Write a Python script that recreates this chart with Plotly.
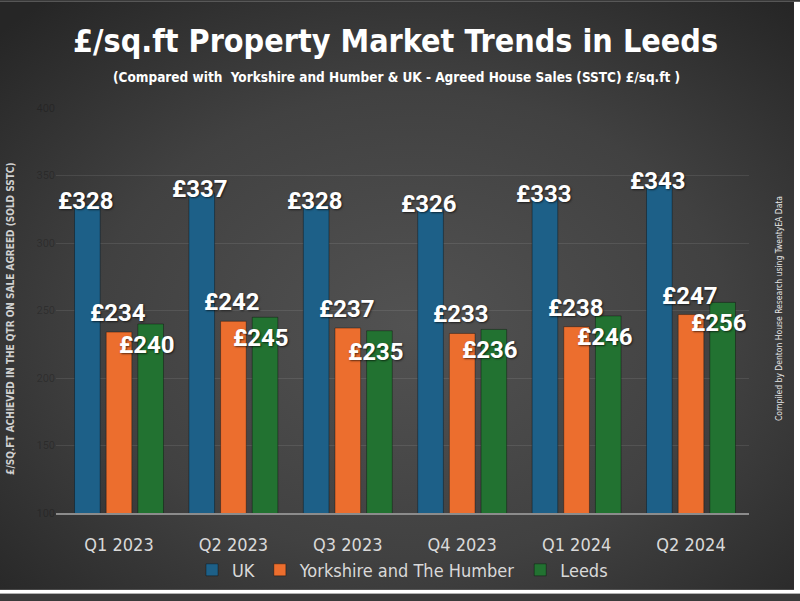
import base64
import plotly.graph_objects as go

quarters = ["Q1 2023", "Q2 2023", "Q3 2023", "Q4 2023", "Q1 2024", "Q2 2024"]
uk = [328, 337, 328, 326, 333, 343]
yorkshire = [234, 242, 237, 233, 238, 247]
leeds = [240, 245, 235, 236, 246, 256]
series_names = ["UK", "Yorkshire and The Humber", "Leeds"]
y_ticks = [100, 150, 200, 250, 300, 350, 400]

W, H = 800, 601
ML, MR, MT, MB = 56, 51, 108, 82
PW, PH = W - ML - MR, H - MT - MB

svg = f'''<svg xmlns="http://www.w3.org/2000/svg" width="{W}" height="{H}" viewBox="0 0 {W} {H}">
<defs><radialGradient id="g" cx="52%" cy="55%" r="72%">
<stop offset="0" stop-color="#525252"/><stop offset="0.55" stop-color="#414141"/><stop offset="1" stop-color="#262626"/>
</radialGradient></defs>
<rect width="{W}" height="{H}" fill="#ffffff"/>
<rect width="794" height="597" fill="url(#g)"/>
</svg>'''
bg_uri = "data:image/svg+xml;base64," + base64.b64encode(svg.encode()).decode()

colors = ["#1d6088", "#ec6e2e", "#227231"]
values = [uk, yorkshire, leeds]

fig = go.Figure()
for name, vals, col in zip(series_names, values, colors):
    fig.add_trace(go.Bar(
        x=quarters, y=vals, name=name,
        marker=dict(color=col, line=dict(color="rgba(0,0,0,0.35)", width=1)),
        hoverinfo="x+y+name",
    ))

label_font = dict(family="Roboto, Arial, sans-serif", size=24, color="#ffffff",
                  weight="bold", shadow="1px 1px 2px rgba(0,0,0,0.6)")
offsets = [(-33, 4), (-1, 19), (28, -21)]
annotations = []
for vals, (dx, dy) in zip(values, offsets):
    for q, v in zip(quarters, vals):
        annotations.append(dict(
            x=q, y=v, xref="x", yref="y", text=f"£{v}", showarrow=False,
            xshift=dx, yshift=dy, yanchor="middle", xanchor="center",
            font=label_font,
        ))

cond = "DejaVu Sans Condensed, Liberation Sans Narrow, sans-serif"
annotations.append(dict(
    text="£/SQ.FT ACHIEVED IN THE QTR ON SALE AGREED (SOLD SSTC)",
    xref="paper", yref="paper", x=-45 / PW, y=(519 - 322) / PH, textangle=-90,
    showarrow=False, xanchor="center", yanchor="middle",
    font=dict(family=cond, size=10, color="#d0d0d0", weight="bold"),
))
annotations.append(dict(
    text="Compiled by Denton House Research using TwentyEA Data",
    xref="paper", yref="paper", x=(779 - ML) / PW, y=(519 - 312) / PH, textangle=-90,
    showarrow=False, xanchor="center", yanchor="middle",
    font=dict(family=cond, size=8.5, color="#e8e8e8"),
))
annotations.append(dict(
    text="£/sq.ft Property Market Trends in Leeds",
    xref="paper", yref="paper", x=(395 - ML) / PW, y=(519 - 40) / PH,
    showarrow=False, xanchor="center", yanchor="middle",
    font=dict(family=cond, size=32, color="#ffffff", weight="bold"),
))
annotations.append(dict(
    text="(Compared with  Yorkshire and Humber & UK - Agreed House Sales (SSTC) £/sq.ft )",
    xref="paper", yref="paper", x=(396 - ML) / PW, y=(519 - 77) / PH,
    showarrow=False, xanchor="center", yanchor="middle",
    font=dict(family=cond, size=13.5, color="#ffffff", weight="bold"),
))

fig.update_layout(
    width=W, height=H,
    margin=dict(l=ML, r=MR, t=MT, b=MB, pad=0),
    paper_bgcolor="#3a3a3a", plot_bgcolor="rgba(0,0,0,0)",
    barmode="group", bargap=0.17, bargroupgap=0.19,
    showlegend=True,
    legend=dict(orientation="h", x=0.5, xanchor="center", y=-(577 - 519) / PH,
                yanchor="middle", font=dict(family=cond, size=18, color="#d9d9d9"),
                bgcolor="rgba(0,0,0,0)", itemwidth=30, traceorder="normal"),
    annotations=annotations,
    images=[dict(source=bg_uri, xref="paper", yref="paper",
                 x=-ML / PW, y=1 + MT / PH, sizex=W / PW, sizey=H / PH,
                 xanchor="left", yanchor="top", sizing="stretch", layer="below")],
    xaxis=dict(showline=True, linecolor="#8c8c8c", linewidth=2, ticks="",
               tickfont=dict(family=cond, size=18, color="#d9d9d9"),
               showgrid=False, zeroline=False, ticklabelstandoff=14),
    yaxis=dict(range=[100, 400], tickvals=y_ticks, showgrid=True,
               gridcolor="rgba(255,255,255,0.09)", gridwidth=1, zeroline=False,
               showline=False, ticks="",
               tickfont=dict(family="Roboto, Arial, sans-serif", size=11,
                             color="rgba(0,0,0,0.22)")),
)

fig.write_html("out.html")
